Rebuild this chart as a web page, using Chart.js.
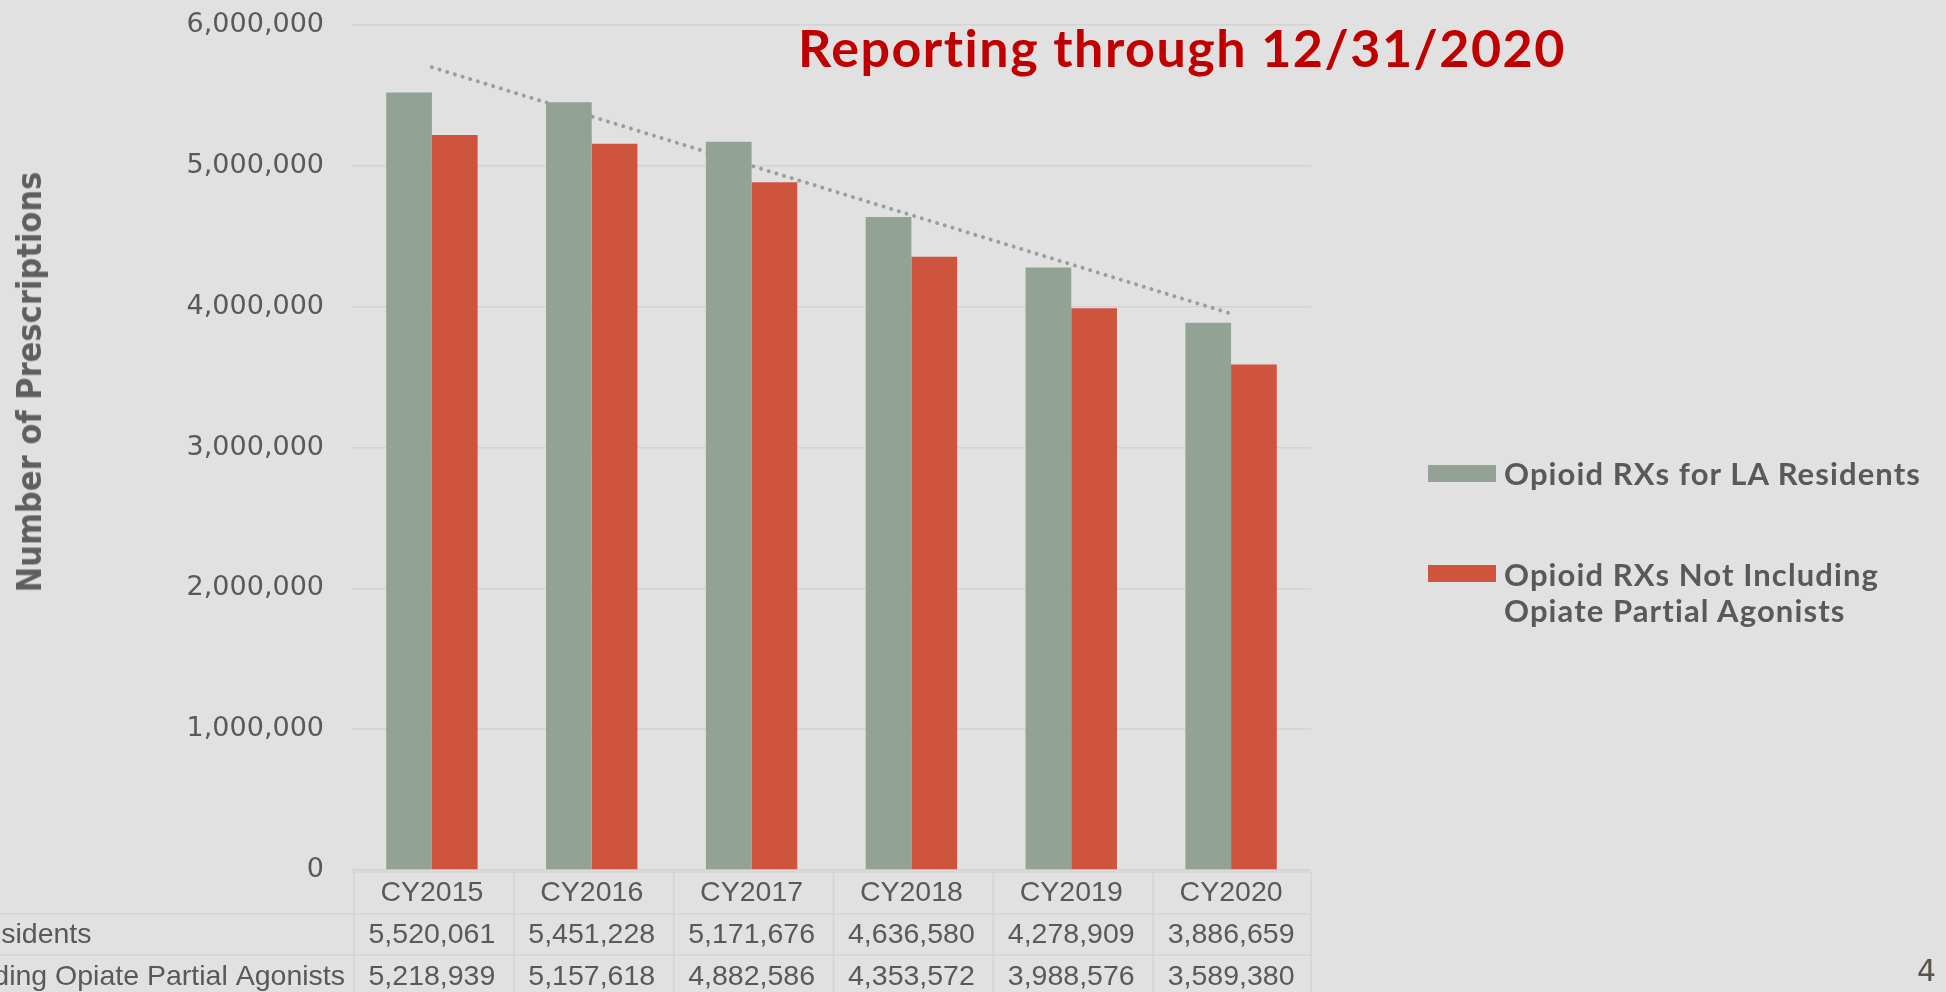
<!DOCTYPE html>
<html>
<head>
<meta charset="utf-8">
<title>Opioid RXs</title>
<script src="https://cdn.jsdelivr.net/npm/chart.js@4/dist/chart.umd.min.js"></script>
<style>
  html, body { margin: 0; padding: 0; background: #e1e1e1; }
  #wrap { position: relative; width: 1946px; height: 992px; overflow: hidden; }
  #plot { position: absolute; left: 0; top: 0; }
  .titulo { position: absolute; left: 798px; top: 21px; font: bold 52px Lato, sans-serif; line-height: 52px; letter-spacing: 1.5px;
            font-variant-ligatures: none; color: #c00000; white-space: nowrap; }
  .ejeY { position: absolute; left: 29px; top: 382px; transform: translate(-50%, -50%) rotate(-90deg);
          font: bold 34px "DejaVu Sans Condensed", "DejaVu Sans", sans-serif; color: #5f5f5f; white-space: nowrap; }
  .leyenda { position: absolute; left: 1428px; font: bold 31px Lato, sans-serif; line-height: 36px; letter-spacing: 1.1px;
             font-variant-ligatures: none; color: #595959; }
  .leyenda span.caja { position: absolute; left: 0; width: 68px; height: 17px; }
  .leyenda div { position: absolute; left: 76px; white-space: nowrap; }
  .pagina { position: absolute; left: 1917px; top: 956px; font: 30px "DejaVu Sans", sans-serif; line-height: 30px; color: #5c5346; }
</style>
</head>
<body>
<div id="wrap">
  <canvas id="plot" width="1946" height="992"></canvas>
  <div class="titulo">Reporting through 12/31/2020</div>
  <div class="ejeY">Number of Prescriptions</div>
  <div class="leyenda" id="ley1" style="top:455px"><span class="caja" style="top:10px"></span><div></div></div>
  <div class="leyenda" id="ley2" style="top:556px"><span class="caja" style="top:9px"></span><div></div></div>
  <div class="pagina">4</div>
</div>
<script>
// datos
const categorias = ['CY2015', 'CY2016', 'CY2017', 'CY2018', 'CY2019', 'CY2020'];
const rxResidentes = [5520061, 5451228, 5171676, 4636580, 4278909, 3886659];
const rxSinAgonistas = [5218939, 5157618, 4882586, 4353572, 3988576, 3589380];
// linea de tendencia: solo extremos
const tendencia = [5700000, null, null, null, null, 3950000];
const nombresSeries = ['Opioid RXs for LA Residents', 'Opioid RXs Not Including Opiate Partial Agonists'];
const lineasLeyenda = [['Opioid RXs for LA Residents'], ['Opioid RXs Not Including', 'Opiate Partial Agonists']];
const yMax = 6000000;
const yPaso = 1000000;

const colorVerde = '#92a396';
const colorRojo = '#cf543e';
const colorTexto = '#595959';
const colorBorde = '#d3d3d3';

let cargarLeyenda = () => {
  let colores = [colorVerde, colorRojo];
  ['ley1', 'ley2'].forEach((id, i) => {
    let el = document.getElementById(id);
    el.querySelector('span').style.background = colores[i];
    el.querySelector('div').innerHTML = lineasLeyenda[i].join('<br>');
  });
};

// dibuja la tabla de datos bajo el eje x
const tablaDatos = {
  id: 'tablaDatos',
  afterDraw(chart) {
    let ctx = chart.ctx;
    let area = chart.chartArea;
    let x = chart.scales.x;
    let ancho = (area.right - area.left) / categorias.length;
    let yTop = area.bottom + 2;
    let yFila1 = area.bottom + 44;
    let yFila2 = area.bottom + 85;
    ctx.save();
    ctx.strokeStyle = colorBorde;
    ctx.lineWidth = 1.5;
    ctx.beginPath();
    ctx.moveTo(area.left + 2, yTop); ctx.lineTo(area.right, yTop);
    ctx.moveTo(0, yFila1); ctx.lineTo(area.right, yFila1);
    ctx.moveTo(0, yFila2); ctx.lineTo(area.right, yFila2);
    for (let i = 0; i <= categorias.length; i++) {
      let xx = area.left + 2 + i * ancho - (i == categorias.length ? 2 : 0);
      ctx.moveTo(xx, yTop); ctx.lineTo(xx, chart.height);
    }
    ctx.stroke();

    ctx.font = '28.5px "Liberation Sans", Arial, sans-serif';
    ctx.fillStyle = colorTexto;
    ctx.textBaseline = 'middle';
    ctx.textAlign = 'center';
    let filas = [rxResidentes, rxSinAgonistas];
    let centros = [yFila1 + 21, yFila2 + 22];
    filas.forEach((fila, f) => {
      fila.forEach((v, i) => {
        ctx.fillText(v.toLocaleString('en-US'), x.getPixelForValue(i), centros[f]);
      });
    });
    // etiquetas de fila, alineadas a la izquierda (se salen del lienzo)
    ctx.textAlign = 'left';
    let anchoMax = Math.max(...nombresSeries.map(n => ctx.measureText(n).width));
    let inicio = area.left - 7 - anchoMax;
    nombresSeries.forEach((n, f) => ctx.fillText(n, inicio, centros[f]));
    ctx.restore();
  }
};

let cargarGrafico = () => {
  let plotRef = document.getElementById('plot');
  let config = {
    type: 'bar',
    data: {
      labels: categorias,
      datasets: [
        {
          label: nombresSeries[0],
          data: rxResidentes,
          backgroundColor: colorVerde,
          categoryPercentage: 0.572,
          barPercentage: 1,
          order: 0
        },
        {
          label: nombresSeries[1],
          data: rxSinAgonistas,
          backgroundColor: colorRojo,
          categoryPercentage: 0.572,
          barPercentage: 1,
          order: 0
        },
        {
          type: 'line',
          label: 'Tendencia',
          data: tendencia,
          spanGaps: true,
          borderColor: '#93a398',
          borderWidth: 4,
          borderDash: [0.01, 8],
          borderCapStyle: 'round',
          pointRadius: 0,
          fill: false,
          order: 1
        }
      ]
    },
    options: {
      responsive: false,
      animation: false,
      devicePixelRatio: 1,
      layout: { padding: { left: 0, right: 635, top: 25, bottom: 0 } },
      plugins: {
        legend: { display: false },
        tooltip: { enabled: false }
      },
      scales: {
        x: {
          grid: { display: false, drawTicks: false },
          border: { display: false },
          ticks: {
            color: colorTexto,
            padding: 6,
            font: { family: '"Liberation Sans", Arial, sans-serif', size: 28.5 }
          },
          afterFit: s => { s.height = 122; }
        },
        y: {
          min: 0,
          max: yMax,
          grid: { color: colorBorde, lineWidth: 1.5, drawTicks: false },
          border: { display: false },
          ticks: {
            stepSize: yPaso,
            color: colorTexto,
            padding: 28,
            font: { family: '"DejaVu Sans", sans-serif', size: 27 },
            callback: v => v.toLocaleString('en-US')
          },
          // ancho fijo y sin relleno extra arriba/abajo
          afterFit: s => { s.width = 352; s.paddingTop = 0; s.paddingBottom = 0; }
        }
      }
    },
    plugins: [tablaDatos]
  };
  let chart1 = new Chart(plotRef, config);
};

(function(){
  cargarLeyenda();
  cargarGrafico();
})();
</script>
</body>
</html>
